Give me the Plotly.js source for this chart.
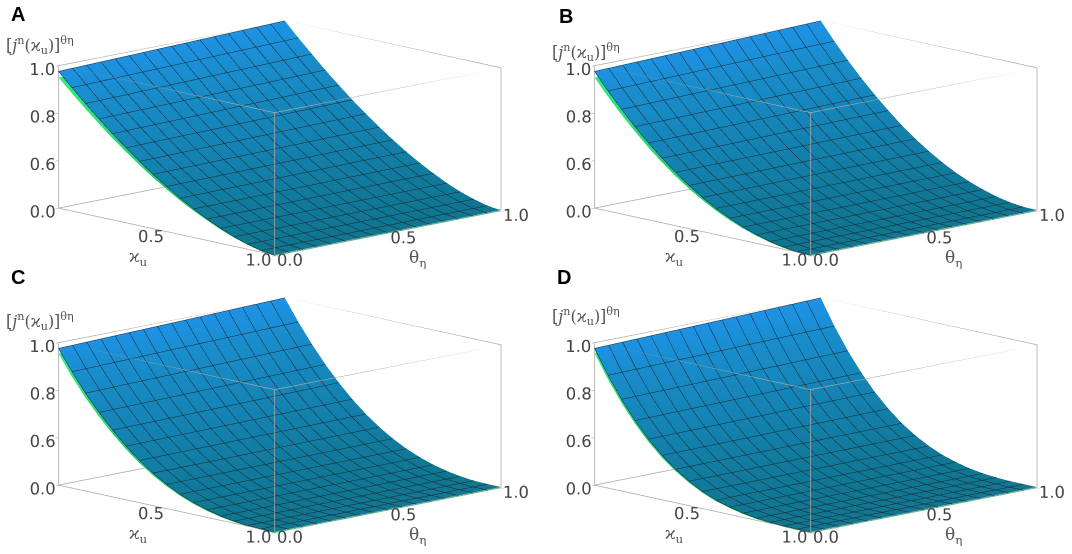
<!DOCTYPE html>
<html><head><meta charset="utf-8">
<script src="https://cdn.plot.ly/plotly-3.0.1.min.js"></script>
<style>html,body{margin:0;padding:0;background:#fff}#chart{width:1072px;height:554px}#dbg{position:absolute;left:300px;top:150px;font:12px sans-serif;color:red;width:700px}</style>
</head><body><div id="chart"></div><div id="dbg"></div>
<script>
window.onerror=function(m){document.getElementById('dbg').textContent+=' ERR '+m;};
// grid
const nuGrid = [0,0.0625,0.125,0.1875,0.25,0.3125,0.375,0.4375,0.5,0.5625,0.625,0.6875,0.75,0.8125,0.875,0.9375,1];
const thetaGrid = [0,1];
// Panel A: blue surface rows (theta=0, theta=1) and green surface row
const blueA_t0 = [.976,.920,.865,.813,.763,.716,.671,.629,.590,.553,.520,.490,.463,.440,.421,.407,.400];
const blueA_t1 = [1.0,.941,.885,.830,.779,.729,.683,.639,.598,.560,.525,.494,.465,.441,.422,.407,.400];
const greenA   = [.950,.895,.842,.792,.743,.698,.655,.615,.578,.543,.512,.484,.458,.436,.418,.404,.396];
// Panel B
const blueB_t0 = [.976,.906,.841,.780,.724,.672,.625,.582,.544,.510,.481,.456,.436,.420,.409,.402,.400];
const blueB_t1 = [1.0,.927,.859,.796,.738,.684,.634,.590,.550,.515,.484,.459,.438,.421,.409,.402,.400];
const greenB   = [.950,.881,.818,.759,.704,.654,.609,.568,.532,.500,.473,.450,.431,.416,.405,.398,.396];
// Panel C
const blueC_t0 = [.976,.890,.812,.743,.681,.626,.578,.537,.502,.473,.450,.432,.418,.409,.403,.401,.400];
const blueC_t1 = [1.0,.911,.830,.757,.692,.635,.585,.542,.506,.476,.452,.433,.419,.409,.403,.401,.400];
const greenC   = [.954,.868,.792,.725,.665,.612,.566,.527,.494,.466,.444,.427,.414,.405,.399,.397,.396];
// Panel D
const blueD_t0 = [.976,.875,.786,.709,.643,.587,.541,.503,.472,.448,.431,.418,.409,.404,.401,.400,.400];
const blueD_t1 = [1.0,.894,.802,.722,.653,.595,.546,.507,.475,.450,.432,.418,.409,.404,.401,.400,.400];
const greenD   = [.956,.857,.770,.695,.631,.577,.533,.496,.466,.443,.427,.414,.405,.400,.397,.396,.396];

const panelLetters = ['A','B','C','D'];
const nuTicks = [0.5,1.0], nuTickText = ['0.5','1.0'];
const thetaTicks = [0,0.5,1.0], thetaTickText = ['0.0','0.5','1.0'];
const zTicks = [0.4,0.6,0.8,1.0], zTickText = ['0.0','0.6','0.8','1.0'];
const zTitle = '[<i>j</i><sup>n</sup>(\u03F0<sub>u</sub>)]<sup>\u03B8\u03B7</sup>';
const nuTitle = '\u03F0<sub>u</sub>';
const thetaTitle = '\u03B8<sub>\u03B7</sub>';

const xRange=[0,1], yRange=[0,1], zRange=[0.395,1], boxZ=[0.4,1];
const panels = [
  {blue:[blueA_t0,blueA_t1], green:[greenA,greenA]},
  {blue:[blueB_t0,blueB_t1], green:[greenB,greenB]},
  {blue:[blueC_t0,blueC_t1], green:[greenC,greenC]},
  {blue:[blueD_t0,blueD_t1], green:[greenD,greenD]}
];
const domains = [
  {x:[0,0.5],y:[0.5,1]},{x:[0.5,1],y:[0.5,1]},
  {x:[0,0.5],y:[0,0.5]},{x:[0.5,1],y:[0,0.5]}
];
const letterPos = [[0.008,0.975],[0.52,0.972],[0.008,0.5],[0.518,0.5]];
const ztPos = [[0.004,0.918],[0.513,0.905],[0.004,0.42],[0.513,0.428]];

const blueScale = [[0,'#0f7590'],[0.4,'#1482b0'],[0.8,'#198dcc'],[1,'#1e93e8']];
const greenScale = [[0,'#1fc070'],[1,'#33ee8a']];
const meshLine = {show:true,start:0,end:1,size:0.0625,color:'#18262d',width:1};

function boxEdges(){
  const X=[],Y=[],Z=[];
  const xs=xRange, ys=yRange, zs=boxZ;
  const seg=(a,b)=>{X.push(a[0],b[0],null);Y.push(a[1],b[1],null);Z.push(a[2],b[2],null);};
  for(const y of ys)for(const z of zs)seg([xs[0],y,z],[xs[1],y,z]);
  for(const x of xs)for(const z of zs)seg([x,ys[0],z],[x,ys[1],z]);
  for(const x of xs)for(const y of ys)seg([x,y,zs[0]],[x,y,zs[1]]);
  return {X,Y,Z};
}
const edges = boxEdges();

const data=[], layout={
  width:1072,height:554,margin:{l:0,r:0,t:0,b:0},paper_bgcolor:'#fff',
  showlegend:false,hovermode:false,annotations:[]
};
const axBase = {showgrid:false,zeroline:false,showbackground:false,showspikes:false,
  showline:false,ticks:'outside',ticklen:4,tickcolor:'#999',tickangle:0,
  tickfont:{family:'DejaVu Sans',size:14,color:'#444'},title:{text:''}};

panels.forEach((p,i)=>{
  const sc = i===0?'scene':'scene'+(i+1);
  data.push({type:'surface',scene:sc,x:nuGrid,y:thetaGrid,z:p.green,
    surfacecolor:p.green,colorscale:greenScale,showscale:false,cmin:0.4,cmax:1,
    lighting:{ambient:0.9,diffuse:0.3,specular:0.05,roughness:0.9,fresnel:0.1},hoverinfo:'skip'});
  data.push({type:'surface',scene:sc,x:nuGrid,y:thetaGrid,z:p.blue,
    colorscale:blueScale,showscale:false,cmin:0.4,cmax:1,
    lighting:{ambient:0.9,diffuse:0.25,specular:0.05,roughness:0.9,fresnel:0.1},
    contours:{x:meshLine,y:meshLine,z:{show:false}},hoverinfo:'skip'});
  data.push({type:'scatter3d',scene:sc,mode:'lines',x:edges.X,y:edges.Y,z:edges.Z,
    line:{color:'#a8a8a8',width:1.5},hoverinfo:'skip',connectgaps:false});
  layout[sc]={domain:domains[i],
    camera:{eye:{x:2.6,y:-2.6,z:0.78},center:{x:-0.06,y:-0.06,z:0},up:{x:0,y:0,z:1},projection:{type:'orthographic'}},
    aspectmode:'manual',aspectratio:{x:2.26,y:2.26,z:1.06},
    xaxis:Object.assign({},axBase,{range:xRange,tickvals:nuTicks,ticktext:nuTickText}),
    yaxis:Object.assign({},axBase,{range:yRange,tickvals:thetaTicks,ticktext:thetaTickText}),
    zaxis:Object.assign({},axBase,{range:zRange,tickvals:zTicks,ticktext:zTickText}),
    annotations:[
      {x:0.5,y:0,z:0.4,xshift:-28,yshift:-26,text:nuTitle,showarrow:false,font:{family:'DejaVu Serif',size:17,color:'#555'}},
      {x:1,y:0.5,z:0.4,xshift:30,yshift:-26,text:thetaTitle,showarrow:false,font:{family:'DejaVu Serif',size:17,color:'#555'}}
    ]};
  layout.annotations.push({xref:'paper',yref:'paper',x:letterPos[i][0],y:letterPos[i][1],
    xanchor:'left',yanchor:'middle',text:'<b>'+panelLetters[i]+'</b>',showarrow:false,
    font:{family:'Liberation Sans',size:20,color:'#000'}});
  layout.annotations.push({xref:'paper',yref:'paper',x:ztPos[i][0],y:ztPos[i][1],
    xanchor:'left',yanchor:'middle',text:zTitle,showarrow:false,
    font:{family:'DejaVu Serif',size:16,color:'#555'}});
});
try{
Plotly.newPlot('chart',data,layout,{displayModeBar:false})
  .catch(e=>{document.getElementById('dbg').textContent+=' PERR '+e+' '+(e&&e.stack);});
}catch(e){document.getElementById('dbg').textContent+=' CERR '+e+' '+e.stack;}
</script></body></html>
